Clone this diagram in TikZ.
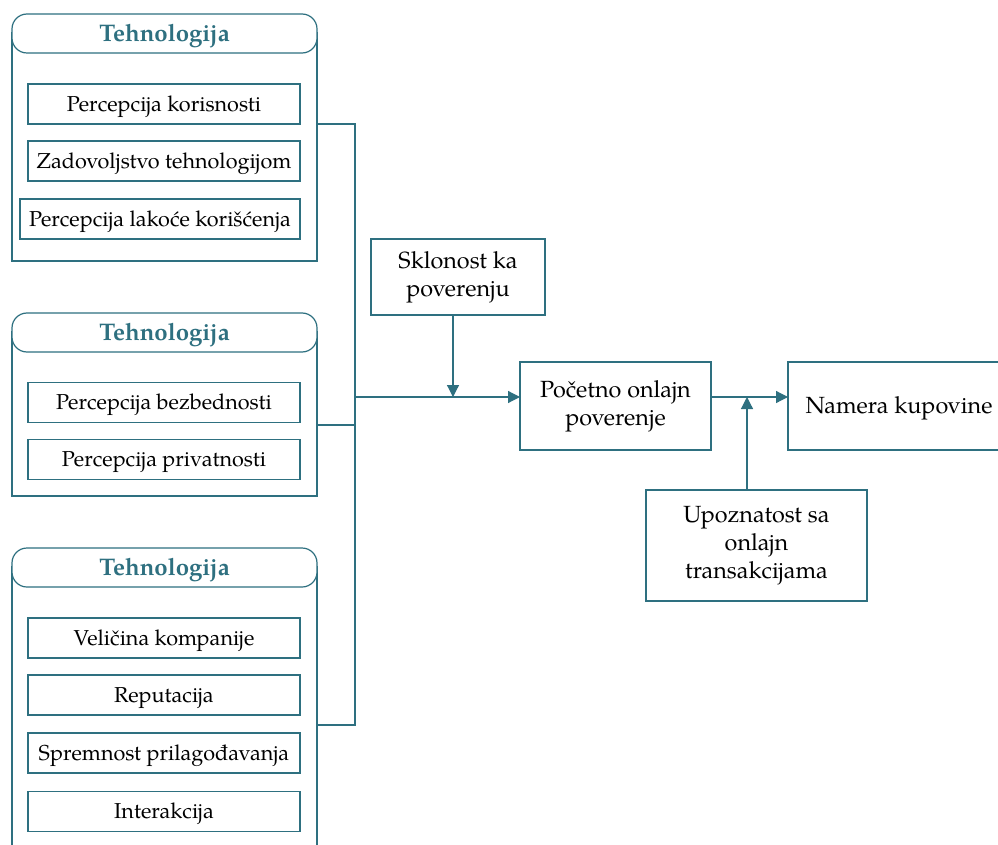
\documentclass[tikz,border=0pt]{standalone}
\usepackage{fontspec}
\setmainfont{texgyrepagella}[Extension=.otf, UprightFont=*-regular, BoldFont=*-bold, ItalicFont=*-italic, BoldItalicFont=*-bolditalic]
\usetikzlibrary{arrows.meta}
\definecolor{tealline}{RGB}{46,112,128}
\definecolor{tealtext}{RGB}{46,112,128}
\begin{document}
\begin{tikzpicture}[x=1pt,y=-1pt,
  line width=1.2pt,
  every node/.style={inner sep=0pt, outer sep=0pt},
  item/.style={draw=tealline, line width=1.2pt, fill=white, minimum height=40, align=center,
    font=\fontsize{21.6}{27}\selectfont, execute at begin node={\rule{0pt}{20.7pt}}},
  grp/.style={draw=tealline, line width=1.2pt, minimum width=305},
  hdr/.style={draw=tealline, line width=1.2pt, fill=white, rounded corners=15, minimum width=305,
    minimum height=39, text=tealtext, font=\fontsize{24}{28}\selectfont\bfseries,
    execute at begin node={\rule{0pt}{21.8pt}}},
  blk/.style={draw=tealline, line width=1.2pt, fill=white, align=center,
    font=\fontsize{23.4}{28}\selectfont, execute at begin node={\rule{0pt}{21.8pt}}},
  conn/.style={draw=tealline, line width=1.2pt},
  arr/.style={conn, -{Triangle[length=12pt,width=12pt]}}
]
\useasboundingbox (0,0) rectangle (998,845);
\fill[white] (0,0) rectangle (998,845);

% group 1
\node[grp, minimum height=228] (g1) at (164.5,147) {};
\node[hdr] (h1) at (164.5,33.5) {Tehnologija};
\node[item, minimum width=272] (a1) at (164,104) {Percepcija korisnosti};
\node[item, minimum width=272] (a2) at (164,161) {Zadovoljstvo tehnologijom};
\node[item, minimum width=280] (a3) at (160,219) {Percepcija lakoće korišćenja};

% group 2
\node[grp, minimum height=164] (g2) at (164.5,414) {};
\node[hdr] (h2) at (164.5,332.5) {Tehnologija};
\node[item, minimum width=272] (b1) at (164,402.5) {Percepcija bezbednosti};
\node[item, minimum width=272] (b2) at (164,459.5) {Percepcija privatnosti};

% group 3
\node[grp, minimum height=300] (g3) at (164.5,717) {};
\node[hdr] (h3) at (164.5,567.5) {Tehnologija};
\node[item, minimum width=272] (c1) at (164,638) {Veličina kompanije};
\node[item, minimum width=272] (c2) at (164,695) {Reputacija};
\node[item, minimum width=272] (c3) at (164,753) {Spremnost prilagođavanja};
\node[item, minimum width=272] (c4) at (164,811.5) {Interakcija};

% right side blocks
\node[blk, minimum width=174, minimum height=76] (sk) at (458,277) {Sklonost ka\\poverenju};
\node[blk, minimum width=191, minimum height=88] (po) at (615.5,406) {Početno onlajn\\poverenje};
\node[blk, minimum width=222, minimum height=88, anchor=west] (na) at (788,406) {Namera kupovine};
\node[blk, minimum width=221, minimum height=111] (up) at (756.5,545.5) {Upoznatost sa\\onlajn\\transakcijama};

% connector coordinates
\coordinate (t1) at (355,124);
\coordinate (t2) at (355,425);
\coordinate (t3) at (355,725);
\coordinate (jn) at (355,397);
\coordinate (sj) at (453,397);
\coordinate (uj) at (747,397);

\draw[conn] (g1.east |- t1) -- (t1) -- (t3) -- (g3.east |- t3);
\draw[conn] (g2.east |- t2) -- (t2);
\draw[arr] (jn) -- (po.west |- jn);
\draw[arr] (sk.south -| sj) -- (sj);
\draw[arr] (po.east |- jn) -- (na.west |- jn);
\draw[arr] (up.north -| uj) -- (uj);
\end{tikzpicture}
\end{document}
